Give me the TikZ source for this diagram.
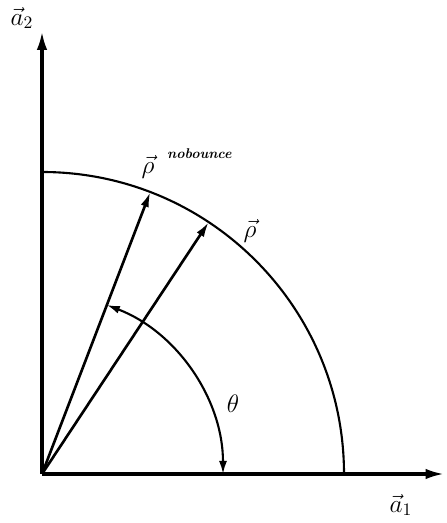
\documentclass[tikz,border=0pt]{standalone}
\usepackage{amsmath}
\usetikzlibrary{arrows.meta}
\tikzset{
  font=\Large,
  axis/.style  ={line width=1.9pt, -{Latex[length=3.8mm, width=2.1mm]}},
  vec/.style   ={line width=1.5pt, -{Latex[length=3mm, width=1.7mm]}},
  circ/.style  ={line width=1.2pt},
  ang/.style   ={line width=1.2pt, {Latex[length=2.6mm, width=1.6mm]}-{Latex[length=2.6mm, width=1.6mm]}},
  suptxt/.style={font=\footnotesize\bfseries\itshape},
}

\begin{document}
\begin{tikzpicture}
  \useasboundingbox (-0.84,-0.98) rectangle (8.08,9.48);

  % axes
  \coordinate (O) at (0,0);
  \coordinate (x1) at (8.05,0);
  \coordinate (x2) at (0,8.86);
  \draw[axis] (O) -- (x1);
  \draw[axis] (O) -- (x2);
  \node (a1) at (7.18,-0.62) {$\vec{a}_1$};
  \node (a2) at (-0.4,9.12)  {$\vec{a}_2$};

  % circle |rho|
  \draw[circ] (6.04,0) arc[start angle=0, end angle=90, radius=6.04];

  % the two vectors
  \coordinate (rho) at (56.5:6.04);
  \coordinate (nb)  at (69:6.04);
  \draw[vec] (O) -- (rho);
  \draw[vec] (O) -- (nb);
  \node (rl) at (4.16,4.86) {$\vec{\rho}$};
  \node (nl) at (2.12,6.14) {$\vec{\rho}$};
  \node[suptxt, anchor=west] (nbl) at (2.38,6.4) {nobounce};

  % angle theta
  \draw[ang] (69:3.62) arc[start angle=69, end angle=0, radius=3.62];
  \node (th) at (3.82,1.4) {$\theta$};
\end{tikzpicture}
\end{document}
